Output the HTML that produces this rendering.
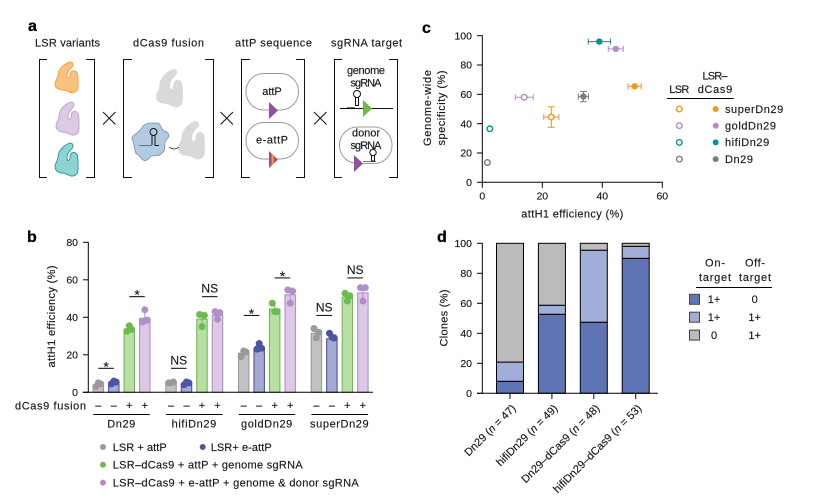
<!DOCTYPE html>
<html>
<head>
<meta charset="utf-8">
<title>LSR dCas9 fusion figure</title>
<style>
html,body{margin:0;padding:0;background:#fff;}
svg{display:block;font-family:"Liberation Sans",sans-serif;font-size:11px;}
text{fill:#14181f;stroke:#14181f;stroke-width:.15px;}
text.panel{font-weight:bold;font-size:16px;fill:#000;stroke:#000;stroke-width:.3px;}
</style>
</head>
<body>
<svg id="fig" xmlns="http://www.w3.org/2000/svg" width="813" height="504" viewBox="0 0 813 504">
<defs>
<path id="blob" d="M15 0C18 0 19 3 17 5C14 8 12 10 12 14C12 17 15 17 15 13C15 10 17 8 20 9C23 10 23 14 23 19C23 24 24 28 20 30C16 32 13 29 9 28C4 28 0 26 0 22C0 18 3 17 3 13C3 8 8 2 15 0Z"/>
</defs>
<g id="panel-a">
<text class="panel" x="28" y="31">a</text>
<text x="35" y="46.5" textLength="65">LSR variants</text>
<text x="133" y="46.5" textLength="71">dCas9 fusion</text>
<text x="235" y="46.5" textLength="77">attP sequence</text>
<text x="331" y="46.5" textLength="71">sgRNA target</text>
<g fill="none" stroke="#111" stroke-width="1">
<path d="M47 59.5H39.5V177.5H47M86 59.5H94.5V177.5H86"/>
<path d="M132 59.5H123.5V177.5H132M205 59.5H213.5V177.5H205"/>
<path d="M250 59.5H241.5V177.5H250M296 59.5H304.5V177.5H296"/>
<path d="M342 59.5H334.5V177.5H342M389 59.5H397.5V177.5H389"/>
<path d="M103 112L115.5 124.500M115.500 112L103 124.500"/>
<path d="M220.500 112L233 124.500M233 112L220.500 124.500"/>
<path d="M314 112L326.500 124.500M326.500 112L314 124.500"/>
</g>
<use href="#blob" x="55" y="62" fill="#fcc07f" stroke="#f7941d" stroke-width=".8"/>
<use href="#blob" transform="translate(56 102) scale(1 1.08)" fill="#dcc9e4" stroke="#b79ccb" stroke-width=".8"/>
<use href="#blob" transform="translate(55 143) scale(1 1.08)" fill="#8ed3d3" stroke="#1c8c8c" stroke-width=".8"/>
<use href="#blob" transform="translate(156 69) scale(1.17 1.25)" fill="#d9d9d9"/>
<use href="#blob" transform="translate(178 121) scale(1.17 1.25)" fill="#d9d9d9"/>
<path d="M169 147Q174 151 179 147" fill="none" stroke="#222" stroke-width=".8"/>
<path d="M143 126C149 121 152 124 156 123C161 122 160 128 164 131C170 132 170 137 166 140C163 144 167 150 162 153C158 158 154 154 150 157C147 161 144 162 141 158C138 153 135 155 135 150C134 146 134 142 132 139C132 134 138 135 143 126Z" fill="#b3cbe0" stroke="#6f8fb3" stroke-width=".8"/>
<g fill="none" stroke="#111" stroke-width="1">
<circle cx="153.500" cy="132" r="3.500"/>
<path d="M152 135.500V145M155 135.500V145.500H159"/>
</g>
<path d="M139 145.500H152" stroke="#d9434e" stroke-width="1"/>
<rect x="246" y="73.500" width="52.500" height="36.500" rx="18" fill="#fff" stroke="#9a9a9a" stroke-width="1"/>
<path d="M269 102L278 110.500L269 119Z" fill="#8e519f"/>
<text x="272" y="95" text-anchor="middle">attP</text>
<rect x="246" y="122.500" width="52.500" height="36.500" rx="18" fill="#fff" stroke="#9a9a9a" stroke-width="1"/>
<path d="M269 151L278 159.500L269 168Z" fill="#8e519f"/>
<path d="M271.500 153.500L274 156V163L271.500 165.500Z" fill="#f7941d"/>
<text x="272" y="143.500" text-anchor="middle" textLength="32">e-attP</text>
<text x="366" y="74" text-anchor="middle" textLength="38">genome</text>
<text x="366" y="86.500" text-anchor="middle" textLength="31">sgRNA</text>
<path d="M340 108.500H393" stroke="#111" stroke-width="1"/>
<path d="M347 107.500H355" stroke="#d9434e" stroke-width="1"/>
<path d="M363 100L372 108.500L363 117Z" fill="#6cb944"/>
<g fill="none" stroke="#111" stroke-width="1">
<circle cx="357" cy="94" r="3.500"/>
<path d="M355.500 97V105.500H358.500V97"/>
</g>
<rect x="339.500" y="127" width="52.500" height="36.500" rx="18" fill="#fff" stroke="#9a9a9a" stroke-width="1"/>
<text x="366" y="136.500" text-anchor="middle" textLength="28">donor</text>
<text x="366" y="149" text-anchor="middle" textLength="31">sgRNA</text>
<path d="M354 155L363 163.500L354 172Z" fill="#8e519f"/>
<path d="M363 161.500H376" stroke="#d9434e" stroke-width="1"/>
<g fill="none" stroke="#111" stroke-width="1">
<circle cx="373" cy="152.500" r="3.200"/>
<path d="M371.500 155.500V161H374.500V155.500"/>
</g>
</g>
<text class="panel" x="27" y="242">b</text>
<text class="panel" x="422" y="33">c</text>
<text class="panel" x="437" y="242">d</text>
<g id="chart-b"></g>
<g id="chart-c"></g>
<g id="chart-d"></g>
</svg>
<script>
/* ---- panel b data ---- */
const variantNames = ['Dn29', 'hifiDn29', 'goldDn29', 'superDn29'];
const conditionNames = ['LSR + attP', 'LSR+ e-attP', 'LSR\u2013dCas9 + attP + genome sgRNA', 'LSR\u2013dCas9 + e-attP + genome & donor sgRNA'];
const fusionSigns = ['\u2013', '\u2013', '+', '+'];
const efficiencyTicks = [0, 20, 40, 60, 80];
const barMeans = [
  [4, 5, 33.7, 39.5],
  [5, 4.5, 39, 41],
  [20.8, 23, 44.4, 52],
  [31.5, 28.5, 50.7, 53]
];
const replicates = [
  [[3, 4.5, 5], [4.5, 5.5, 6], [32.5, 33.5, 35.5], [37.5, 38.5, 44]],
  [[5, 5.5, 5], [4, 5, 5.5], [41.5, 41, 35], [43, 42.5, 39]],
  [[19, 21.5, 22], [23, 23.5, 26], [47.5, 43, 43], [54.6, 54, 47.5]],
  [[34, 32, 29], [31.5, 29, 29.5], [52.8, 51.5, 48.7], [55.8, 55.8, 48.7]]
];
const barErrors = [
  [1, 0.8, 1.5, 3.2],
  [0.4, 0.8, 3.5, 2],
  [1.7, 1.6, 2.8, 3.9],
  [2.5, 1.4, 2.1, 4]
];
const sigLabels = ['*', '*', 'NS', 'NS', '*', '*', 'NS', 'NS'];
const sigLevels = [12.8, 51, 12.8, 51, 41, 61, 41, 61];

/* ---- panel c data ---- */
const scatterVariants = ['superDn29', 'goldDn29', 'hifiDn29', 'Dn29'];
const lsrEfficiency = [23, 14, 2.5, 1.7];
const lsrSpecificity = [44.5, 58, 36.5, 13.5];
const lsrXErr = [2.5, 3, 0, 0];
const lsrYErr = [7, 0, 0, 0];
const fusionEfficiency = [50.8, 44.5, 39, 33.7];
const fusionSpecificity = [65.5, 91, 96, 58.5];
const fusionXErr = [2.2, 2.5, 3.7, 1.7];
const fusionYErr = [0, 0, 0, 3.5];
const scatterXTicks = [0, 20, 40, 60];
const scatterYTicks = [0, 20, 40, 60, 80, 100];

/* ---- panel d data ---- */
const cloneCategories = ['Dn29', 'hifiDn29', 'Dn29\u2013dCas9', 'hifiDn29\u2013dCas9'];
const cloneCounts = [47, 49, 48, 53];
const onTargetOnly = [8, 52.7, 47.4, 90];
const onAndOffTarget = [12.8, 6, 48, 8];
const offTargetOnly = [79.2, 41.3, 4.6, 2];
const cloneTicks = [0, 20, 40, 60, 80, 100];
const cloneLegendOn = ['1+', '1+', '0'];
const cloneLegendOff = ['0', '1+', '1+'];

/* ---- helpers ---- */
const NS = 'http://www.w3.org/2000/svg';
function mk(parent, tag, attrs, txt) {
  const e = document.createElementNS(NS, tag);
  for (const k in attrs) e.setAttribute(k, attrs[k]);
  if (txt !== undefined) e.textContent = txt;
  parent.appendChild(e);
  return e;
}
function line(parent, x1, y1, x2, y2, color, w) {
  return mk(parent, 'line', {x1: x1, y1: y1, x2: x2, y2: y2, stroke: color || '#000', 'stroke-width': w || 1});
}

/* ---- panel b ---- */
const gb = document.getElementById('chart-b');
const yB = v => 392.3 - v * 1.875;
const groupStarts = i => 98.3 + i * 72.7;
const xB = (g, c) => groupStarts(g) + c * 15.5;
const bFill = ['#c2c2c2', '#a4a9d4', '#b8dfa6', '#dbc9e5'];
const bStroke = ['#9a9a9a', '#4a55a3', '#6dbb4f', '#b28ec9'];

for (let g = 0; g < variantNames.length; g++) {
  for (let c = 0; c < 4; c++) {
    const x = xB(g, c);
    const bar = mk(gb, 'rect', {x: x - 5.2, y: yB(barMeans[g][c]), width: 10.4, height: yB(0) - yB(barMeans[g][c]), fill: bFill[c], stroke: bStroke[c], 'stroke-width': 1.1});
    
    
    const err = line(gb, x, yB(barMeans[g][c] + barErrors[g][c]), x, yB(barMeans[g][c] - barErrors[g][c]), bStroke[c], 1);
    
    
    const jitter = [-2.4, 2.4, 0];
    replicates[g][c].forEach((v, i) => {
      const d = mk(gb, 'circle', {cx: x + jitter[i], cy: yB(v), r: 3.5, fill: bStroke[c]});
      
      
    });
    const s = mk(gb, 'text', {x: x, y: 409, 'text-anchor': 'middle'}, fusionSigns[c]);
    
    
  }
  const gl = line(gb, xB(g, 0) - 5, 414.5, xB(g, 3) + 5, 414.5, '#000', 1);
  
  
  const gt = mk(gb, 'text', {x: (xB(g, 0) + xB(g, 3)) / 2, y: 427.5, 'text-anchor': 'middle', 'letter-spacing': '.6'}, variantNames[g]);
  
  
  [0, 1].forEach(p => {
    const idx = g * 2 + p;
    const xa = xB(g, p * 2), xb = xB(g, p * 2 + 1);
    const sl = line(gb, xa, yB(sigLevels[idx]), xb, yB(sigLevels[idx]), '#000', 1);
    
    
    const star = sigLabels[idx] === '*';
    const st = mk(gb, 'text', {x: (xa + xb) / 2, y: yB(sigLevels[idx]) + (star ? 3 : -4), 'text-anchor': 'middle', 'font-size': star ? '14' : '12'}, sigLabels[idx]);
    
    
  });
}
const bax = line(gb, 88.3, 242, 88.3, 392.8);


const bxx = line(gb, 82.8, 392.3, 373, 392.3);


efficiencyTicks.forEach(t => {
  const tk = line(gb, 83, yB(t), 88.3, yB(t));
  
  
  const tl = mk(gb, 'text', {x: 78, y: yB(t) + 3.7, 'text-anchor': 'end', 'font-size': '10.5'}, t);
  
  
});
const bTitle = mk(gb, 'text', {transform: 'translate(55 316.5) rotate(-90)', 'text-anchor': 'middle', textLength: 102}, 'attH1 efficiency (%)');


const fusionLabel = mk(gb, 'text', {x: 15, y: 409.500, textLength: 71}, 'dCas9 fusion');



const legendRows = [0, 0, 1, 2];
const legendDotX = [103, 202.7, 103, 103];
const legendLens = [54, 61, 190, 246];
conditionNames.forEach((n, i) => {
  const y = 447 + legendRows[i] * 17.8;
  const d = mk(gb, 'circle', {cx: legendDotX[i], cy: y, r: 3, fill: bStroke[i]});
  
  
  const t = mk(gb, 'text', {x: legendDotX[i] + (i === 1 ? 8 : 9.7), y: y + 3.8, textLength: legendLens[i]}, n);
  
  
});

/* ---- panel c ---- */
const gc = document.getElementById('chart-c');
const xC = v => 482.3 + v * 3;
const yC = v => 182.3 - v * 1.466;
const cColors = ['#f7941d', '#b38cc8', '#00958f', '#7d7d7d'];
function errBars(x, y, xe, ye, col) {
  if (xe > 0) {
    const a = line(gc, xC(x - xe), yC(y), xC(x + xe), yC(y), col, 1);
    
    
    const b = line(gc, xC(x - xe), yC(y) - 3, xC(x - xe), yC(y) + 3, col, 1);
    
    
    const c = line(gc, xC(x + xe), yC(y) - 3, xC(x + xe), yC(y) + 3, col, 1);
    
    
  }
  if (ye > 0) {
    const a = line(gc, xC(x), yC(y - ye), xC(x), yC(y + ye), col, 1);
    
    
    const b = line(gc, xC(x) - 3.5, yC(y - ye), xC(x) + 3.5, yC(y - ye), col, 1);
    
    
    const c = line(gc, xC(x) - 3.5, yC(y + ye), xC(x) + 3.5, yC(y + ye), col, 1);
    
    
  }
}
scatterVariants.forEach((n, i) => {
  errBars(lsrEfficiency[i], lsrSpecificity[i], lsrXErr[i], lsrYErr[i], cColors[i]);
  const o = mk(gc, 'circle', {cx: xC(lsrEfficiency[i]), cy: yC(lsrSpecificity[i]), r: 2.8, fill: '#fff', stroke: cColors[i], 'stroke-width': 1.4});
  
  
  errBars(fusionEfficiency[i], fusionSpecificity[i], fusionXErr[i], fusionYErr[i], cColors[i]);
  const f = mk(gc, 'circle', {cx: xC(fusionEfficiency[i]), cy: yC(fusionSpecificity[i]), r: 3.2, fill: cColors[i]});
  
  
  const y = 109 + i * 16.7;
  const lo = mk(gc, 'circle', {cx: 679.3, cy: y, r: 2.8, fill: '#fff', stroke: cColors[i], 'stroke-width': 1.4});
  
  
  const lf = mk(gc, 'circle', {cx: 715.7, cy: y, r: 3, fill: cColors[i]});
  
  
  const lt = mk(gc, 'text', {x: 725, y: y + 3.8, 'letter-spacing': '.55'}, n);
  
  
});
const cy = line(gc, 482.3, 35.3, 482.3, 182.8);


const cx = line(gc, 482.3, 182.3, 662.8, 182.3);


scatterYTicks.forEach(t => {
  const tk = line(gc, 477, yC(t), 482.3, yC(t));
  
  
  const tl = mk(gc, 'text', {x: 472, y: yC(t) + 3.7, 'text-anchor': 'end', 'font-size': '10.5'}, t);
  
  
});
scatterXTicks.forEach(t => {
  const tk = line(gc, xC(t), 182.3, xC(t), 187.8);
  
  
  const tl = mk(gc, 'text', {x: xC(t), y: 199.5, 'text-anchor': 'middle', 'font-size': '10.5'}, t);
  
  
});
const cxTitle = mk(gc, 'text', {x: 572.3, y: 217.5, 'text-anchor': 'middle', textLength: 102}, 'attH1 efficiency (%)');


const cyTitle1 = mk(gc, 'text', {transform: 'translate(431 108) rotate(-90)', 'text-anchor': 'middle', textLength: 76}, 'Genome-wide');


const cyTitle2 = mk(gc, 'text', {transform: 'translate(445 108) rotate(-90)', 'text-anchor': 'middle', textLength: 75}, 'specificity (%)');


const lh1 = mk(gc, 'text', {x: 669.3, y: 93, textLength: 20}, 'LSR');


const lh2 = mk(gc, 'text', {x: 702.5, y: 79.500, textLength: 25}, 'LSR\u2013');


const lh3 = mk(gc, 'text', {x: 697.7, y: 93, textLength: 34.500}, 'dCas9');


const lhr = line(gc, 667, 98.5, 733.7, 98.5);



/* ---- panel d ---- */
const gd = document.getElementById('chart-d');
const yD = v => 393.3 - v * 1.5;
const xD = i => 510 + i * 41.9;
const dFill = ['#5f74b5', '#a0aed8', '#bbbbbb'];
const stacks = [onTargetOnly, onAndOffTarget, offTargetOnly];
cloneCategories.forEach((n, i) => {
  let base = 0;
  stacks.forEach((s, k) => {
    const r = mk(gd, 'rect', {x: xD(i) - 13.5, y: yD(base + s[i]), width: 27, height: yD(base) - yD(base + s[i]), fill: dFill[k], stroke: '#000', 'stroke-width': 1});
    
    
    base += s[i];
  });
  const tk = line(gd, xD(i), 393.3, xD(i), 399);
  
  
  const t = mk(gd, 'text', {transform: 'translate(' + (xD(i) + 6.5) + ' 409) rotate(-45)', 'text-anchor': 'end'});
  
  
  mk(t, 'tspan', {}, n + ' (');
  mk(t, 'tspan', {'font-style': 'italic'}, 'n');
  mk(t, 'tspan', {}, ' = ' + cloneCounts[i] + ')');
});
const dy = line(gd, 482.3, 243, 482.3, 393.8);


const dx = line(gd, 477, 393.3, 658, 393.3);


cloneTicks.forEach(t => {
  const tk = line(gd, 477, yD(t), 482.3, yD(t));
  
  
  const tl = mk(gd, 'text', {x: 472, y: yD(t) + 3.7, 'text-anchor': 'end', 'font-size': '10.5'}, t);
  
  
});
const dTitle = mk(gd, 'text', {transform: 'translate(447.500 318) rotate(-90)', 'text-anchor': 'middle', textLength: 57}, 'Clones (%)');


const d1 = mk(gd, 'text', {x: 715, y: 266.500, 'text-anchor': 'middle', textLength: 20}, 'On-');


const d2 = mk(gd, 'text', {x: 715, y: 281, 'text-anchor': 'middle', textLength: 32}, 'target');


const d3 = mk(gd, 'text', {x: 755, y: 266.500, 'text-anchor': 'middle', textLength: 20}, 'Off-');


const d4 = mk(gd, 'text', {x: 755, y: 281, 'text-anchor': 'middle', textLength: 32}, 'target');


const d5 = line(gd, 696, 287.5, 772, 287.5);


cloneLegendOn.forEach((v, i) => {
  const y = 299.3 + i * 17.9;
  const s = mk(gd, 'rect', {x: 689.5, y: y - 5, width: 10, height: 10, fill: dFill[i], stroke: '#444', 'stroke-width': 1});
  
  
  const a = mk(gd, 'text', {x: 714, y: y + 3.8, 'text-anchor': 'middle'}, v);
  
  
  const b = mk(gd, 'text', {x: 754.7, y: y + 3.8, 'text-anchor': 'middle'}, cloneLegendOff[i]);
  
  
});
</script>
</body>
</html>
